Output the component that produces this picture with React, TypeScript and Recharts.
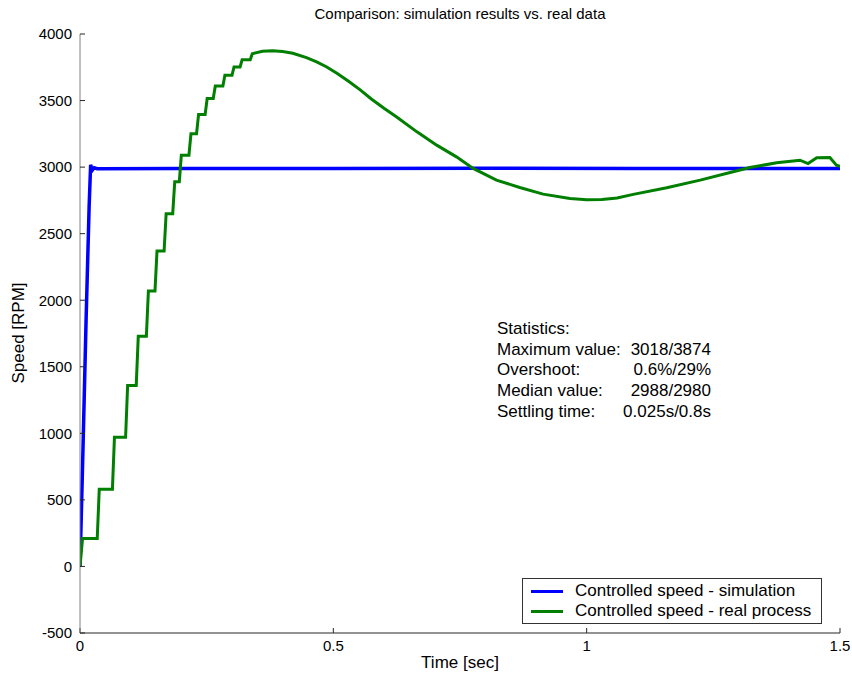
import React from 'react';
import { LineChart, Line, XAxis, YAxis, Legend } from 'recharts';

// simulation: fast rise then flat around 2990 rpm
const simTime = [0, 0.006, 0.012, 0.018, 0.021, 0.024, 0.028, 0.034, 0.2, 0.5, 0.8, 1.1, 1.4, 1.5];
const simSpeed = [0, 900, 1850, 2700, 3018, 2975, 2995, 2988, 2990, 2990, 2991, 2989, 2990, 2990];

// real process: staircase rise, overshoot, slow oscillation
const realTime = [
  0, 0.005, 0.034, 0.038, 0.064, 0.068, 0.09, 0.094, 0.111, 0.115, 0.131, 0.135, 0.148, 0.152,
  0.166, 0.17, 0.183, 0.187, 0.196, 0.2, 0.215, 0.219, 0.23, 0.234, 0.247, 0.251, 0.263, 0.267,
  0.282, 0.286, 0.3, 0.304, 0.316, 0.32, 0.336, 0.34, 0.36, 0.38, 0.4, 0.42, 0.447, 0.467, 0.487,
  0.507, 0.53, 0.553, 0.575, 0.6, 0.625, 0.665, 0.704, 0.743, 0.776, 0.822, 0.868, 0.914,
  0.967, 1.0, 1.03, 1.06, 1.092, 1.158, 1.224, 1.289, 1.322, 1.375, 1.421, 1.437, 1.454, 1.48,
  1.493, 1.5,
];
const realSpeed = [
  0, 210, 210, 580, 580, 970, 970, 1360, 1360, 1730, 1730, 2070, 2070, 2370,
  2370, 2650, 2650, 2890, 2890, 3090, 3090, 3250, 3250, 3395, 3395, 3515, 3515, 3610,
  3610, 3690, 3690, 3752, 3752, 3807, 3807, 3852, 3870, 3874, 3868, 3855, 3822, 3790, 3752,
  3705, 3645, 3580, 3512, 3442, 3377, 3265, 3165, 3077, 2990, 2902, 2847, 2797,
  2765, 2755, 2757, 2768, 2795, 2845, 2902, 2965, 2997, 3032, 3052, 3027, 3070, 3072,
  3015, 3005,
];

const xTicks = [0, 0.5, 1, 1.5];
const yTicks = [-500, 0, 500, 1000, 1500, 2000, 2500, 3000, 3500, 4000];

const seriesNames = ['Controlled speed - simulation', 'Controlled speed - real process'];
const seriesColors = ['#0000ff', '#007f00'];

const statLabels = ['Maximum value:', 'Overshoot:', 'Median value:', 'Settling time:'];
const statValues = ['3018/3874', '0.6%/29%', '2988/2980', '0.025s/0.8s'];

const simData = simTime.map((t, i) => ({ t, v: simSpeed[i] }));
const realData = realTime.map((t, i) => ({ t, v: realSpeed[i] }));

const font = '"Liberation Sans", Arial, sans-serif';

const LegendBox = () => (
  <div
    style={{
      border: '1px solid #333',
      background: '#fff',
      padding: '2px 4px 2px 8px',
      fontFamily: font,
      fontSize: 17,
      lineHeight: '20px',
      color: '#000',
    }}
  >
    {seriesNames.map((name, i) => (
      <div key={name} style={{ display: 'flex', alignItems: 'center' }}>
        <span style={{ display: 'inline-block', width: 32, height: 3, background: seriesColors[i], marginRight: 12 }} />
        <span>{name}</span>
      </div>
    ))}
  </div>
);

export default function App() {
  return (
    <div style={{ position: 'absolute', left: 0, top: 0, width: 852, height: 681, background: '#fff', fontFamily: font }}>
      <LineChart width={852} height={681} margin={{ top: 34, right: 12, bottom: 0, left: 0 }}>
        <XAxis
          type="number"
          dataKey="t"
          domain={[0, 1.5]}
          ticks={xTicks}
          height={48}
          allowDataOverflow
          axisLine={{ stroke: '#262626' }}
          tickLine={{ stroke: '#262626' }}
          tickSize={-5}
          tickMargin={12}
          tick={{ fill: '#000', fontSize: 15, fontFamily: font }}
        />
        <YAxis
          type="number"
          dataKey="v"
          domain={[-500, 4000]}
          ticks={yTicks}
          width={80}
          allowDataOverflow
          axisLine={{ stroke: '#808080' }}
          tickLine={{ stroke: '#262626' }}
          tickSize={-5}
          tickMargin={13}
          tick={{ fill: '#000', fontSize: 15, fontFamily: font }}
        />
        <Line
          data={simData}
          dataKey="v"
          name={seriesNames[0]}
          type="linear"
          stroke={seriesColors[0]}
          strokeWidth={3.5}
          dot={false}
          isAnimationActive={false}
        />
        <Line
          data={realData}
          dataKey="v"
          name={seriesNames[1]}
          type="linear"
          stroke={seriesColors[1]}
          strokeWidth={3}
          dot={false}
          isAnimationActive={false}
        />
        <Legend
          layout="vertical"
          align="center"
          verticalAlign="middle"
          content={() => <LegendBox />}
          wrapperStyle={{ left: 522, top: 578, width: 300 }}
        />
      </LineChart>

      <div style={{ position: 'absolute', left: 0, top: 5, width: 920, textAlign: 'center', fontSize: 15, color: '#000' }}>
        Comparison: simulation results vs. real data
      </div>
      <div style={{ position: 'absolute', left: 380, top: 653, width: 160, textAlign: 'center', fontSize: 17, color: '#000' }}>
        Time [sec]
      </div>
      <div
        style={{
          position: 'absolute',
          left: 19,
          top: 333,
          transform: 'translate(-50%, -50%) rotate(-90deg)',
          whiteSpace: 'nowrap',
          fontSize: 17,
          color: '#000',
        }}
      >
        Speed [RPM]
      </div>
      <div style={{ position: 'absolute', left: 497, top: 319, width: 214, fontSize: 17, lineHeight: '20.7px', color: '#000' }}>
        <div>Statistics:</div>
        {statLabels.map((label, i) => (
          <div key={label} style={{ display: 'flex', justifyContent: 'space-between' }}>
            <span>{label}</span>
            <span>{statValues[i]}</span>
          </div>
        ))}
      </div>
    </div>
  );
}
